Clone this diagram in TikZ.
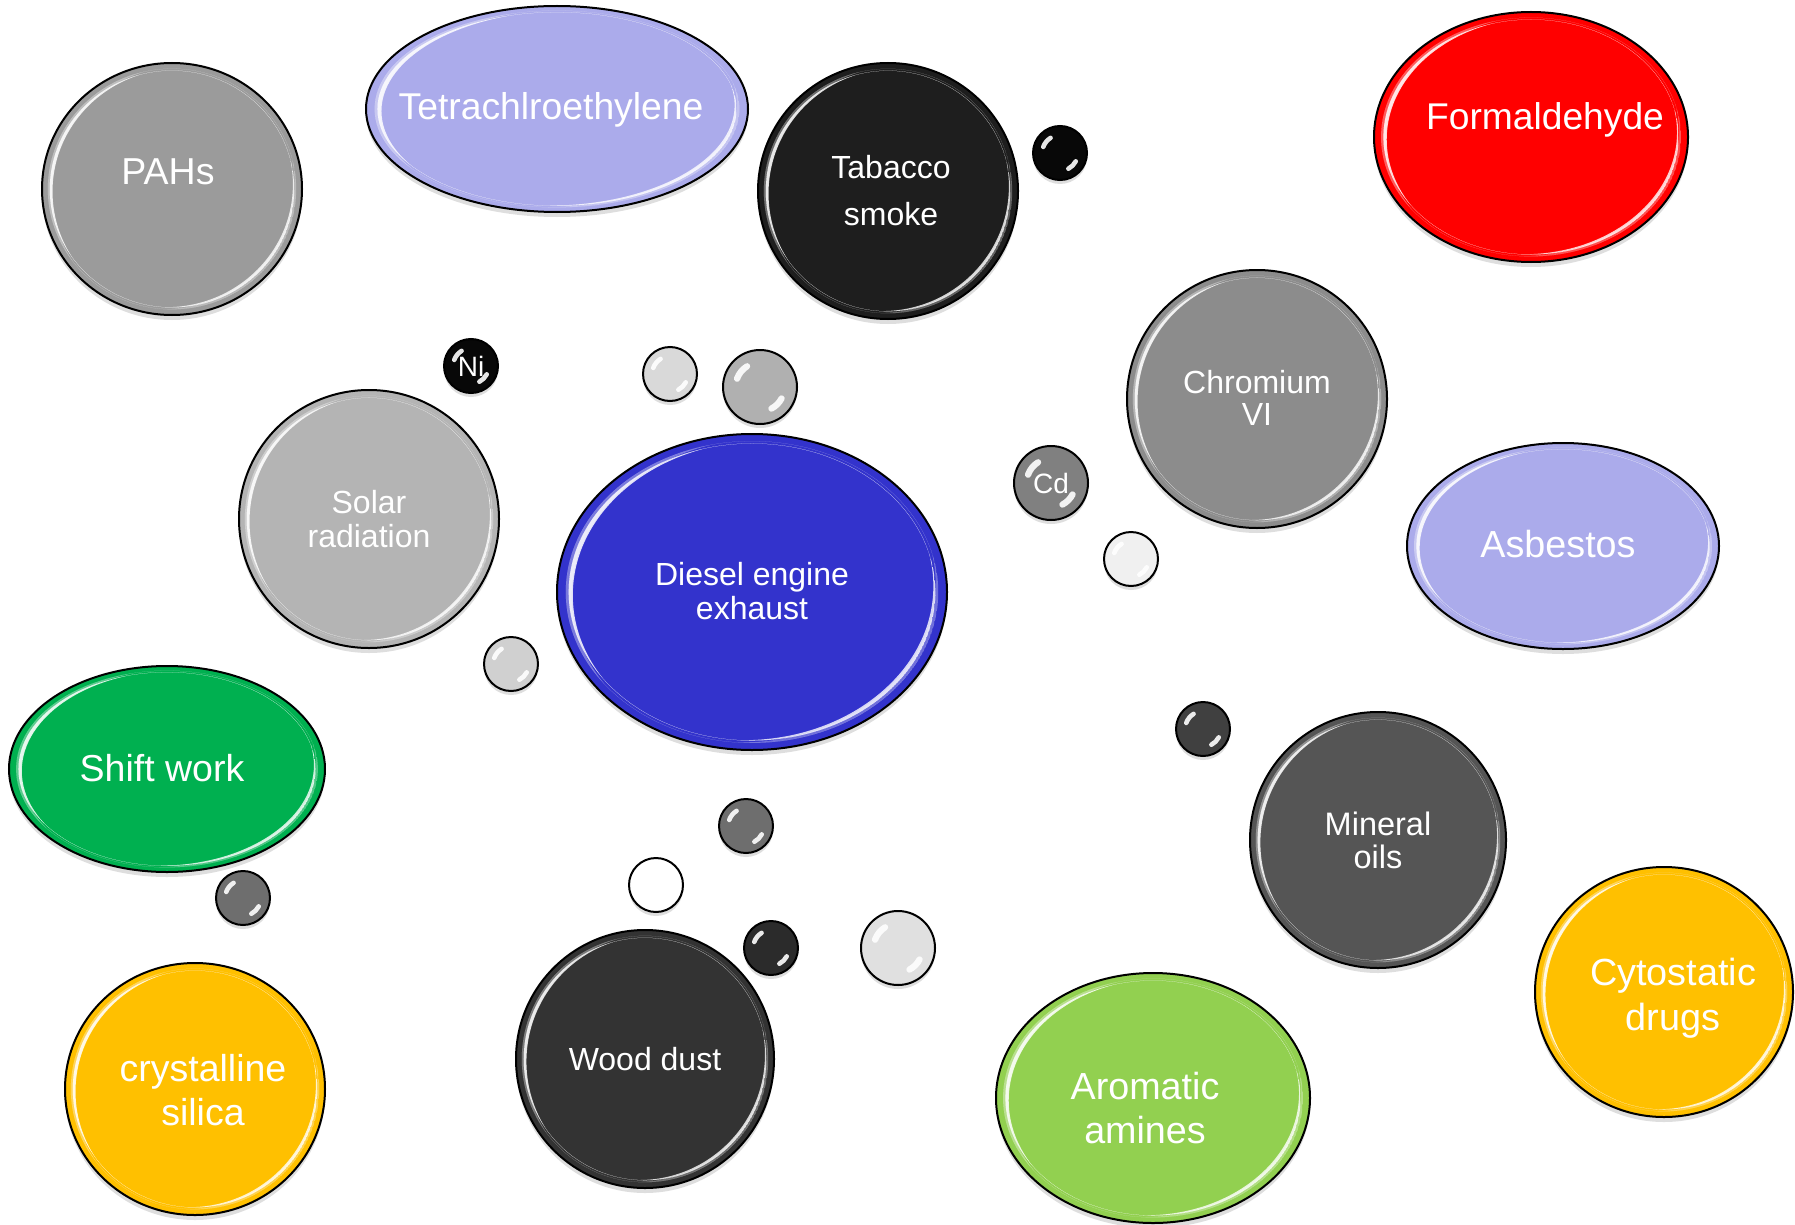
\documentclass[tikz,border=0pt]{standalone}
\usepackage{fontspec}
\setmainfont{Liberation Sans}
\usetikzlibrary{shapes.geometric,calc}
\definecolor{cPAH}{HTML}{9B9B9B}
\definecolor{cLav}{HTML}{ABABEB}
\definecolor{cTab}{HTML}{1E1E1E}
\definecolor{cRed}{HTML}{FF0000}
\definecolor{cChrom}{HTML}{8C8C8C}
\definecolor{cSolar}{HTML}{B4B4B4}
\definecolor{cBlue}{HTML}{3333CC}
\definecolor{cGreen}{HTML}{00B050}
\definecolor{cMin}{HTML}{555555}
\definecolor{cWood}{HTML}{333333}
\definecolor{cYel}{HTML}{FFC000}
\definecolor{cLime}{HTML}{92D050}
\definecolor{cBlack}{HTML}{080808}
\definecolor{cL1}{HTML}{D9D9D9}
\definecolor{cG3}{HTML}{B0B0B0}
\definecolor{cG4}{HTML}{808080}
\definecolor{cW4}{HTML}{F0F0F0}
\definecolor{cL5}{HTML}{D0D0D0}
\definecolor{cD6}{HTML}{404040}
\definecolor{cG7}{HTML}{6E6E6E}
\definecolor{cD9}{HTML}{2B2B2B}
\definecolor{cL10}{HTML}{E0E0E0}
\tikzset{
  bubble/.style={ellipse, draw=black, line width=2pt, inner sep=0pt, outer sep=0pt},
  ball/.style={circle, draw=black, line width=2pt, inner sep=0pt, outer sep=0pt},
  lbl/.style={text=white, inner sep=0pt, outer sep=0pt, align=center},
  shade/.style={black, opacity=0.13},
  pill/.style={white, line cap=round, opacity=0.9},
}
% crescent highlight: node, rx, ry, kA, kB, dx, dy, opacity
\newcommand\Cres[8]{%
  \begin{scope}
    \clip (#1.center) ellipse [x radius=#4*#2, y radius=#4*#3];
    \fill[white, opacity=#8, even odd rule] (#1.center) ellipse [x radius=#4*#2, y radius=#4*#3]
      ($(#1.center)+(#6*#2,#7*#3)$) ellipse [x radius=#5*#2, y radius=#5*#3];
  \end{scope}}
\newcommand\Bub[6]{%
  \fill[shade] (#2,#3+5) ellipse [x radius=#4, y radius=#5];
  \node[bubble, fill=#6, minimum width=2*#4, minimum height=2*#5] (#1) at (#2,#3) {};
  \Cres{#1}{#4}{#5}{0.955}{1.0}{0.075}{0.027}{0.35}
  \Cres{#1}{#4}{#5}{0.94}{0.975}{0.056}{0.02}{0.85}
  \Cres{#1}{#4}{#5}{0.955}{1.0}{-0.058}{-0.048}{0.3}
  \Cres{#1}{#4}{#5}{0.94}{0.975}{-0.045}{-0.037}{0.8}}
\newcommand\Ball[5]{%
  \fill[shade] (#2,#3+4) circle [radius=#4];
  \node[ball, fill=#5, minimum size=2*#4] (#1) at (#2,#3) {};
  \draw[pill, line width=0.17*#4] (#1.center) ++(-122:{0.66*#4}) arc[start angle=-122, end angle=-160, radius=0.66*#4];
  \draw[pill, line width=0.17*#4] (#1.center) ++(28:{0.66*#4}) arc[start angle=28, end angle=62, radius=0.66*#4];}
\begin{document}
\begin{tikzpicture}[x=1pt, y=-1pt]
\useasboundingbox (0,0) rectangle (1795,1225);
\fill[white] (0,0) rectangle (1795,1225);
% large bubbles
\Bub{pahs}{172}{189}{130}{126}{cPAH}
\node[lbl, font=\fontsize{37.5}{44}\selectfont, anchor=base] (pahs-t) at (168,185) {PAHs};
\Bub{tetra}{557}{109}{191}{103}{cLav}
\node[lbl, font=\fontsize{37.3}{44}\selectfont, anchor=base] (tetra-t) at (551,120) {Tetrachlroethylene};
\Bub{tab}{888}{191}{130}{128}{cTab}
\node[lbl, font=\fontsize{32}{47}\selectfont] (tab-t) at (891,191) {Tabacco\\smoke};
\Bub{form}{1531}{137}{157}{125}{cRed}
\node[lbl, font=\fontsize{37.2}{44}\selectfont, anchor=base] (form-t) at (1545,130) {Formaldehyde};
\Bub{chrom}{1257}{399}{130}{129}{cChrom}
\node[lbl, font=\fontsize{32}{32}\selectfont] (chrom-t) at (1257,398) {Chromium\\VI};
\Bub{solar}{369}{519}{130}{129}{cSolar}
\node[lbl, font=\fontsize{32}{34}\selectfont] (solar-t) at (369,519) {Solar\\radiation};
\Bub{diesel}{752}{592}{195}{158}{cBlue}
\node[lbl, font=\fontsize{32}{34}\selectfont] (diesel-t) at (752,591) {Diesel engine\\exhaust};
\Bub{asb}{1563}{546}{156}{103}{cLav}
\node[lbl, font=\fontsize{37.7}{44}\selectfont, anchor=base] (asb-t) at (1558,557) {Asbestos};
\Bub{shift}{167}{769}{158}{103}{cGreen}
\node[lbl, font=\fontsize{37.5}{44}\selectfont, anchor=base] (shift-t) at (162,781) {Shift work};
\Bub{mineral}{1378}{840}{128}{128}{cMin}
\node[lbl, font=\fontsize{32.5}{33}\selectfont] (mineral-t) at (1378,840) {Mineral\\oils};
\Bub{wood}{645}{1059}{129}{129}{cWood}
\node[lbl, font=\fontsize{32}{38}\selectfont, anchor=base] (wood-t) at (645,1070) {Wood dust};
\Bub{cyto}{1664}{992}{129}{125}{cYel}
\node[lbl, font=\fontsize{37.8}{45}\selectfont] (cyto-t) at (1673,998) {Cytostatic\\drugs};
\Bub{silica}{195}{1089}{130}{126}{cYel}
\node[lbl, font=\fontsize{37.5}{44}\selectfont] (silica-t) at (203,1090) {crystalline\\silica};
\Bub{arom}{1153}{1098}{157}{125}{cLime}
\node[lbl, font=\fontsize{37.7}{43.5}\selectfont] (arom-t) at (1145,1108) {Aromatic\\amines};
% small balls
\Ball{b1}{1060}{153}{27}{cBlack}
\Ball{ni}{471}{366}{27}{cBlack}
\node[lbl, font=\fontsize{28}{30}\selectfont] (ni-t) at (ni) {Ni};
\Ball{b2}{670}{374}{27}{cL1}
\Ball{b3}{760}{387}{37}{cG3}
\Ball{cd}{1051}{483}{37}{cG4}
\node[lbl, font=\fontsize{28}{30}\selectfont] (cd-t) at (cd) {Cd};
\Ball{b4}{1131}{559}{27}{cW4}
\Ball{b5}{511}{664}{27}{cL5}
\Ball{b6}{1203}{729}{27}{cD6}
\Ball{b7}{746}{826}{27}{cG7}
\Ball{b8}{656}{885}{27}{white}
\Ball{b9}{771}{948}{27}{cD9}
\Ball{b10}{898}{948}{37}{cL10}
\Ball{b11}{243}{898}{27}{cG7}
\end{tikzpicture}
\end{document}
